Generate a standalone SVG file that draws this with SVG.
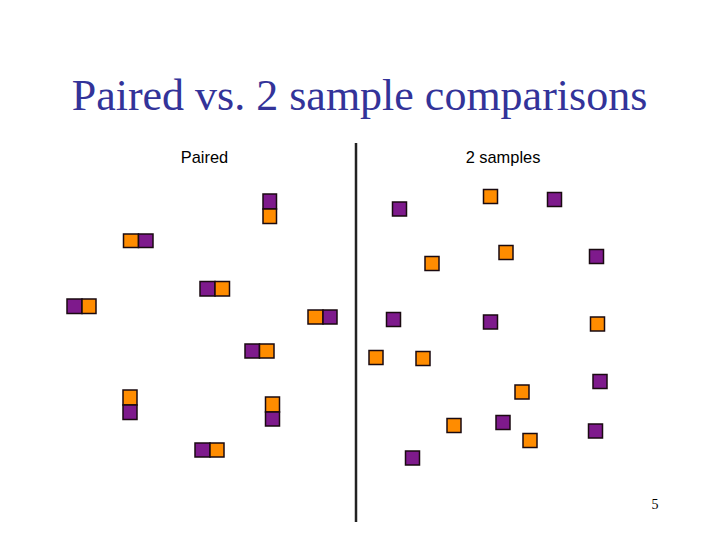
<svg xmlns="http://www.w3.org/2000/svg" width="720" height="540" viewBox="0 0 720 540">
<style>
.p{fill:#7E1A8C;stroke:#1a0a10;stroke-width:1.5}
.o{fill:#FF8C00;stroke:#1a0a10;stroke-width:1.5}
.title{font-family:"Liberation Serif",serif;font-size:44px;fill:#333399}
.lbl{font-family:"Liberation Sans",Arial,sans-serif;font-size:16.4px;fill:#000}
.num{font-family:"Liberation Serif",serif;font-size:14px;fill:#000}
</style>
<rect width="720" height="540" fill="#fff"/>
<text class="title" x="359.5" y="110" text-anchor="middle">Paired vs. 2 sample comparisons</text>
<text class="lbl" x="204.5" y="163" text-anchor="middle">Paired</text>
<text class="lbl" x="503" y="163" text-anchor="middle">2 samples</text>
<text class="num" x="655" y="509" text-anchor="middle">5</text>
<g id="connectors">
<line x1="356" y1="143" x2="356" y2="522" stroke="#222" stroke-width="2.5"/>
</g>
<g id="paired">
<g id="pair1"><rect class="p" x="263" y="194" width="13.5" height="15"/><rect class="o" x="263" y="209" width="13.5" height="14.5"/></g>
<g id="pair2"><rect class="o" x="123.5" y="234" width="15" height="13.5"/><rect class="p" x="138.5" y="234" width="14.5" height="13.5"/></g>
<g id="pair3"><rect class="p" x="200" y="281.5" width="15" height="14.5"/><rect class="o" x="215" y="281.5" width="14.5" height="14.5"/></g>
<g id="pair4"><rect class="p" x="67" y="299" width="15" height="14.5"/><rect class="o" x="82" y="299" width="14" height="14.5"/></g>
<g id="pair5"><rect class="o" x="308" y="310" width="15" height="14"/><rect class="p" x="323" y="310" width="14" height="14"/></g>
<g id="pair6"><rect class="p" x="245" y="344" width="14.5" height="14"/><rect class="o" x="259.5" y="344" width="14.5" height="14"/></g>
<g id="pair7"><rect class="o" x="123" y="390" width="14" height="15"/><rect class="p" x="123" y="405" width="14" height="14.5"/></g>
<g id="pair8"><rect class="o" x="265.5" y="397" width="14" height="15"/><rect class="p" x="265.5" y="412" width="14" height="14"/></g>
<g id="pair9"><rect class="p" x="195" y="443" width="15" height="14"/><rect class="o" x="210" y="443" width="14" height="14"/></g>
</g>
<g id="samples">
<rect class="p" x="392.5" y="202" width="14" height="14"/>
<rect class="o" x="483.5" y="189.5" width="14" height="14"/>
<rect class="p" x="547.5" y="192.5" width="14" height="14"/>
<rect class="o" x="425" y="256.5" width="14" height="14"/>
<rect class="o" x="499" y="245.5" width="14" height="14"/>
<rect class="p" x="589.5" y="249.5" width="14" height="14"/>
<rect class="p" x="386.5" y="312.5" width="14" height="14"/>
<rect class="p" x="483.5" y="315" width="14" height="14"/>
<rect class="o" x="590.5" y="317" width="14" height="14"/>
<rect class="o" x="369" y="350.5" width="14" height="14"/>
<rect class="o" x="416" y="351.5" width="14" height="14"/>
<rect class="o" x="515" y="385" width="14" height="14"/>
<rect class="p" x="593" y="374.5" width="14" height="14"/>
<rect class="o" x="447" y="418.5" width="14" height="14"/>
<rect class="p" x="496" y="415.5" width="14" height="14"/>
<rect class="o" x="523" y="433.5" width="14" height="14"/>
<rect class="p" x="588.5" y="424" width="14" height="14"/>
<rect class="p" x="405.5" y="451" width="14" height="14"/>
</g>
</svg>
